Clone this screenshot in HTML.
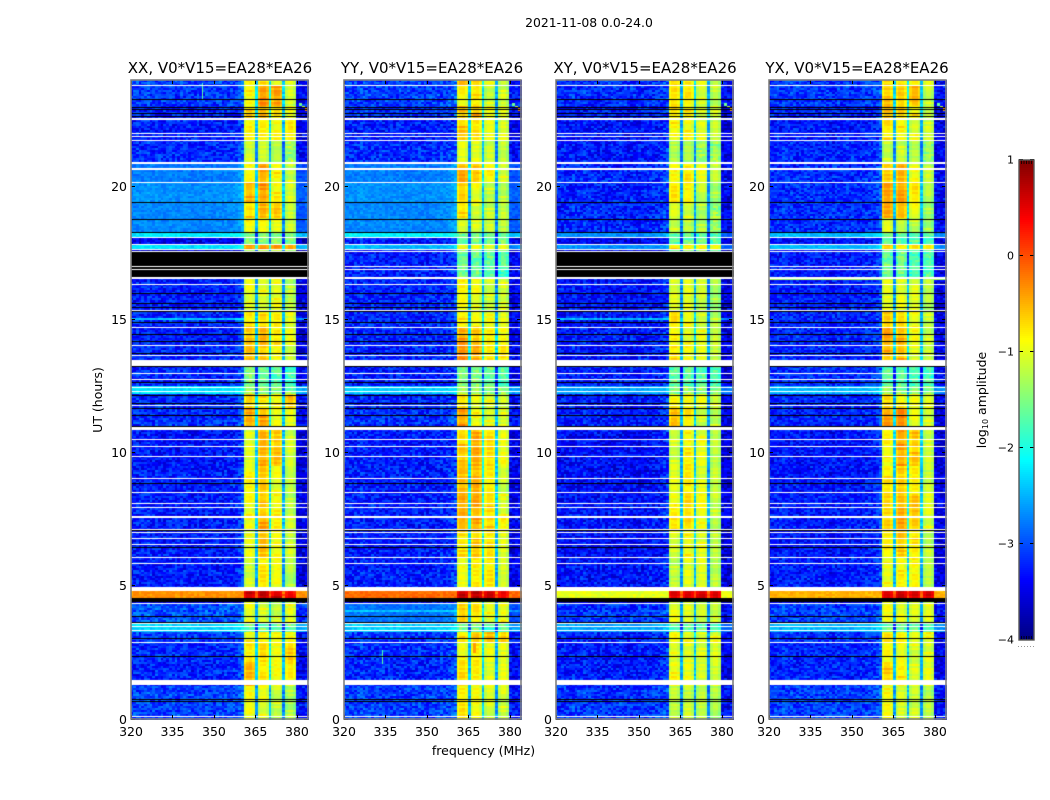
<!DOCTYPE html>
<html lang="en">
<head>
<meta charset="utf-8">
<title>2021-11-08 0.0-24.0 spectrogram</title>
<style>
html,body{margin:0;padding:0;background:#fff;}
#figure{position:relative;width:1050px;height:800px;overflow:hidden;background:#fff;font-family:"DejaVu Sans","Liberation Sans",sans-serif;color:#000;}
#figure canvas{position:absolute;display:block;}
#overlay{position:absolute;left:0;top:0;}
text{font-family:"DejaVu Sans","Liberation Sans",sans-serif;fill:#000;}
</style>
</head>
<body>
<div id="figure">
<svg id="overlay" width="1050" height="800" viewBox="0 0 1050 800" xmlns="http://www.w3.org/2000/svg">
  <text x="589" y="27" text-anchor="middle" font-size="12.4">2021-11-08 0.0-24.0</text>
  <text x="220" y="73" text-anchor="middle" font-size="15">XX, V0*V15=EA28*EA26</text>
  <text x="432" y="73" text-anchor="middle" font-size="15">YY, V0*V15=EA28*EA26</text>
  <text x="645" y="73" text-anchor="middle" font-size="15">XY, V0*V15=EA28*EA26</text>
  <text x="857" y="73" text-anchor="middle" font-size="15">YX, V0*V15=EA28*EA26</text>
  <text x="483.5" y="755" text-anchor="middle" font-size="12.5">frequency (MHz)</text>
  <text transform="translate(102 400) rotate(-90)" text-anchor="middle" font-size="12.5">UT (hours)</text>
  <text transform="translate(986 400) rotate(-90)" text-anchor="middle" font-size="12.5">log<tspan font-size="8" dy="2">10</tspan><tspan dy="-2"> amplitude</tspan></text>
  <g id="marks"></g>
</svg>
</div>
<script>
// Axis tick values
const freqTicks = [320, 335, 350, 365, 380];
const utTicks = [0, 5, 10, 15, 20];
const colorbarTicks = [1, 0, -1, -2, -3, -4];

// Start of each time block, UT hours
const segmentStart = [0,1.3,2.2,2.95,3.3,3.62,4.36,4.56,4.84,6.1,7.15,7.65,8.5,9.5,10.9,11.7,12.2,12.5,13.5,14,14.7,15.3,16.6,17.55,17.66,17.88,18.08,18.3,18.8,19.4,20.17,20.9,21.75,22.5,23,23.8];

// Estimated log10 amplitude per time block (-9 means below colour range)
const xxBackground = [-3.1,-3.25,-3.2,-3.15,-2.35,-3,-3.6,-0.35,-3.3,-3.3,-3.3,-3.3,-3.3,-3.35,-3.2,-3.2,-2.3,-3.25,-3.25,-3.3,-3.25,-3.3,-9,-3.6,-2.3,-3.5,-2.25,-2.75,-2.75,-2.7,-2.8,-3.2,-3.3,-3.25,-3.15,-3.1];
const xxSub1 = [-1,-0.55,-0.85,-0.9,-1.6,-1,-1.1,0.55,-1.15,-1,-0.9,-0.95,-0.95,-1.05,-0.45,-0.65,-1.4,-1.6,-0.6,-0.65,-0.75,-1,-9,-1.3,-0.4,-1.5,-1.5,-0.95,-0.7,-0.55,-0.95,-1.15,-0.9,-0.75,-0.85,-0.8];
const xxSub2 = [-1.05,-0.85,-0.75,-0.9,-1.6,-1.05,-1.1,0.6,-0.85,-0.6,-0.45,-0.6,-0.7,-0.55,-0.5,-0.8,-1.4,-1.65,-0.7,-0.55,-0.75,-1,-9,-1.3,-0.4,-1.5,-1.5,-0.95,-0.55,-0.4,-0.5,-1.2,-0.85,-0.6,-0.35,-0.7];
const xxSub3 = [-1.15,-1,-0.95,-0.95,-1.6,-1.1,-1.2,0.55,-1,-0.95,-0.85,-0.85,-1,-0.65,-1,-0.85,-1.45,-1.7,-1,-0.8,-0.85,-0.95,-9,-1.3,-0.45,-1.5,-1.55,-1,-0.65,-0.85,-0.85,-1.3,-0.95,-0.8,-0.45,-0.9];
const xxSub4 = [-1.25,-0.85,-0.7,-0.9,-1.65,-1,-1.15,0.5,-1.25,-1.15,-1.1,-1.2,-1.1,-1.15,-1,-0.6,-1.5,-1.75,-1.2,-1,-1,-1.2,-9,-1.35,-0.5,-1.6,-1.6,-1.15,-1.15,-1.1,-1.1,-1.35,-0.85,-0.95,-1.1,-1];

const yyBackground = [-3.1,-3.25,-3.2,-3.15,-2.4,-2.85,-3.5,-0.15,-3.3,-3.3,-3.3,-3.3,-3.3,-3.3,-3.2,-3.25,-2.4,-3.3,-3.25,-3.25,-3.25,-3.25,-3.3,-3.3,-2.5,-3.3,-2.2,-2.75,-2.75,-2.7,-2.8,-3.2,-3.3,-3.2,-3.1,-3.1];
const yySub1 = [-0.85,-0.75,-0.9,-0.8,-1.6,-0.75,-1,0.6,-1,-0.75,-0.5,-0.55,-0.6,-0.65,-0.45,-0.85,-1.35,-1.55,-0.35,-0.45,-0.8,-0.95,-1.6,-1.4,-0.95,-1.6,-1.55,-1,-0.75,-0.75,-0.55,-1.05,-0.65,-0.6,-0.9,-0.55];
const yySub2 = [-1,-0.85,-0.85,-0.55,-1.6,-0.8,-1,0.6,-0.85,-0.65,-0.45,-0.5,-0.6,-0.5,-0.9,-1,-1.4,-1.6,-0.5,-0.65,-0.85,-1,-1.65,-1.4,-1,-1.6,-1.6,-1.1,-1.05,-1,-0.7,-1.05,-0.8,-0.55,-0.75,-0.7];
const yySub3 = [-1.1,-1.05,-1,-0.6,-1.65,-0.95,-1.1,0.55,-0.85,-0.8,-0.65,-0.7,-0.9,-0.75,-1,-1,-1.45,-1.65,-0.85,-0.85,-0.95,-1.1,-1.75,-1.5,-1,-1.6,-1.6,-1.15,-1.15,-1.15,-0.9,-1.2,-1,-0.95,-1.1,-1];
const yySub4 = [-1.1,-1.05,-1,-0.7,-1.65,-0.9,-1.05,0.5,-1.15,-1.05,-0.85,-1,-1.15,-1,-1.05,-1,-1.5,-1.7,-0.85,-0.9,-1,-1.05,-1.75,-1.5,-1.05,-1.6,-1.6,-1.2,-1.2,-1.2,-1.05,-1.25,-1.05,-1.05,-1.1,-1.1];

const xyBackground = [-3.15,-3.3,-3.3,-3.25,-2.6,-3.15,-3.7,-1,-3.35,-3.4,-3.35,-3.35,-3.4,-3.4,-3.3,-3.3,-2.6,-3.3,-3.3,-3.3,-3.35,-3.35,-9,-3.5,-2.7,-3.5,-2.7,-3.25,-3.25,-3.25,-3.25,-3.3,-3.35,-3.3,-3.2,-3.2];
const xySub1 = [-1.2,-0.9,-1,-0.95,-1.7,-1.05,-1.2,0.5,-1.2,-1.05,-0.85,-0.95,-1.05,-1.1,-0.65,-0.95,-1.45,-1.65,-0.75,-0.85,-0.8,-1.1,-9,-1.4,-0.75,-1.6,-1.55,-1.15,-1.1,-0.85,-0.9,-1.3,-0.85,-0.8,-0.85,-0.85];
const xySub2 = [-1.2,-1,-1,-0.95,-1.7,-1.1,-1.25,0.55,-1.05,-0.9,-0.75,-0.8,-0.85,-0.85,-0.8,-1,-1.45,-1.7,-0.95,-0.95,-0.9,-1.1,-9,-1.4,-0.8,-1.6,-1.6,-1.15,-1.1,-0.95,-0.85,-1.3,-0.9,-0.85,-0.85,-0.9];
const xySub3 = [-1.25,-1.1,-1.05,-1,-1.7,-1.15,-1.3,0.5,-1.05,-1,-0.95,-0.95,-1.1,-1,-1.1,-1,-1.5,-1.75,-1.05,-1,-1.05,-1.15,-9,-1.5,-0.85,-1.6,-1.65,-1.25,-1.25,-1.2,-1.05,-1.35,-1.05,-1,-1.05,-1.05];
const xySub4 = [-1.3,-1.1,-1.05,-0.95,-1.7,-1.1,-1.25,0.5,-1.25,-1.2,-1.15,-1.15,-1.2,-1.2,-1.15,-1.05,-1.5,-1.8,-1.15,-1.15,-1.2,-1.3,-9,-1.5,-0.9,-1.7,-1.65,-1.35,-1.35,-1.3,-1.2,-1.4,-1.15,-1.1,-1.15,-1.1];

const yxBackground = [-3.1,-3.25,-3.25,-3.2,-2.5,-3.1,-3.6,-0.5,-3.3,-3.35,-3.3,-3.3,-3.35,-3.35,-3.25,-3.25,-2.5,-3.2,-3.25,-3.25,-3.25,-3.3,-3.3,-3.4,-2.5,-3.4,-2.5,-3.2,-3.2,-3.2,-3.2,-3.25,-3.3,-3.25,-3.15,-3.15];
const yxSub1 = [-0.95,-0.65,-0.95,-0.85,-1.65,-0.95,-1.1,0.55,-0.95,-0.9,-0.75,-0.75,-0.8,-0.9,-0.5,-0.75,-1.4,-1.65,-0.55,-0.5,-0.75,-1.05,-1.6,-1.4,-0.7,-1.6,-1.55,-1.1,-0.55,-0.45,-0.7,-1.15,-0.8,-0.65,-0.7,-0.75];
const yxSub2 = [-1.1,-0.8,-0.95,-0.9,-1.7,-1.05,-1.15,0.6,-0.85,-0.65,-0.5,-0.6,-0.7,-0.45,-0.4,-0.9,-1.45,-1.7,-0.55,-0.55,-0.8,-1.05,-1.65,-1.45,-0.75,-1.65,-1.6,-1.15,-0.65,-0.5,-0.55,-1.15,-0.85,-0.75,-0.75,-0.8];
const yxSub3 = [-1.15,-1.05,-1.05,-0.95,-1.7,-1.1,-1.2,0.55,-0.9,-0.75,-0.7,-0.65,-0.85,-0.6,-1,-1,-1.5,-1.75,-1.05,-0.85,-0.95,-1.1,-1.75,-1.5,-0.8,-1.7,-1.65,-1.2,-0.95,-0.85,-0.95,-1.25,-1,-0.85,-0.6,-0.95];
const yxSub4 = [-1.25,-1,-1,-0.9,-1.7,-1.05,-1.2,0.5,-1.2,-1.15,-1.05,-1.05,-1.15,-1.1,-1.05,-1.05,-1.55,-1.8,-1.15,-1.1,-1.1,-1.25,-1.75,-1.55,-0.85,-1.7,-1.65,-1.3,-1.3,-1.25,-1.2,-1.35,-1.1,-1.1,-1.15,-1];

// 64 frequency channels: 0 background, 1-4 sub-band, 5 band-edge notch
const channelBand = [0,0,0,0,0,0,0,0,0,0,0,0,0,0,0,0,0,0,0,0,0,0,0,0,0,0,0,0,0,0,0,0,0,0,0,0,0,0,0,0,0,1,1,1,1,5,2,2,2,2,5,3,3,3,3,5,4,4,4,4,0,0,0,0];
const channelOffset = [0,.02,.05,.05,.03,.05,.08,.05,.03,.05,.05,.03,.02,.03,.05,.02,.05,.03,.02,.03,.05,.03,0,.02,.03,.02,0,.03,.02,0,.03,.03,.03,.03,.05,.05,.05,.08,.1,.15,.25,-.15,.03,.05,-.08,-1.5,-.12,.04,.04,-.12,-1.35,-.12,.03,.03,-.12,-1.6,-.12,.03,.03,-.15,-.2,-.2,-.2,-.15];

// Fine grain residuals (hand-typed approximation of speckle too fine to read cell by cell)
const cellGrain = [.31,-.42,.12,-.08,.55,-.27,.04,-.61,.22,.38,-.15,-.33,.47,.09,-.52,.18,-.05,.29,-.44,.62,-.2,.06,-.36,.41,-.11,.25,-.58,.14,.34,-.24,-.02,.5,-.47,.2,-.12,.36,-.31,.08,.44,-.55,.16,-.07,.27,-.39,.57,-.18,.03,-.29,.39,-.48,.11,.24,-.64,.33,-.09,.17,-.26,.48,-.35,.01,.21,-.41,.07,.53,-.14,-.3,.28,-.5,.13,.42,-.22,-.04,.35,-.6,.19,.46,-.17,.1,-.37,.26,-.03,.52,-.45,.15,-.25,.32,-.54,.05,.4,-.13,-.34,.23,.6,-.43,.02,-.19,.3,-.49,.37,-.06,.16,-.28,.45,-.56,.12,.2,-.38,.58,-.1,-.23,.43,-.32,.06,.27,-.46,.15,.34,-.16,-.01,.49,-.4,.09,-.21,.36,-.53];
const rowGrain = [.1,-.12,.22,.04,-.2,.3,-.05,.15,-.28,.08,.34,-.1,-.18,.2,.02,-.3,.25,.12,-.08,.36,-.22,.05,.16,-.14,.28,-.02,-.25,.18,.32,-.16,.06,-.06,.24,-.32,.14,.03,.38,-.2,-.04,.2,-.26,.1,.3,-.12,.07,-.18,.26,.01,-.1,.33,-.24,.12,.18];

// Flagged (no data) times drawn white, single rows, UT hours
const whiteRows = [0.1,2.9,3.36,3.48,3.61,4.36,5.87,6.09,6.58,6.8,7.01,7.14,7.97,8.12,8.53,9.06,9.89,10.24,10.53,11.8,12.33,12.48,12.77,12.98,13.69,14.05,14.71,15.38,16.34,16.9,17.03,17.59,17.66,17.85,18.11,20.17,21.76,21.88,22.01,23.8];
// Flagged intervals drawn white: start and end hours
const whiteBlockStart = [1.3,4.84,7.56,10.87,13.27,16.54,20.64,20.86,22.52];
const whiteBlockEnd = [1.48,4.98,7.66,10.98,13.5,16.62,20.72,20.94,22.6];
// Zero-amplitude rows drawn black, UT hours
const blackRows = [0.67,0.76,2.37,3.05,3.66,3.86,6.47,7.09,8.87,11.02,11.43,11.67,11.88,12.16,12.65,13.25,13.75,14.19,14.45,14.93,15.31,15.48,15.63,16,18.3,18.78,19.41,22.64,22.77,22.92,22.99,23.27];
const blackBlockStart = [4.42,3.62];
const blackBlockEnd = [4.58,3.67];

// Narrow interference streaks across the background: panel, UT hour, level
const streakPanel = [0,2,3,1];
const streakHour = [15.05,15.05,16.55,4.1];
const streakLevel = [-2.45,-2.5,-1.3,-2.45];

// Individual bright cells: panel, channel, UT hour, level
const hotPanel = [0,0,0,0,0,0,0,0,0,1,1,1,1,1,1,1,2,2,2,3,3,3,1,1,1,1,1];
const hotChannel = [26,26,26,26,26,26,61,62,63,61,62,63,47,47,47,47,61,62,63,61,62,63,14,14,14,14,14];
const hotHour = [23.3,23.4,23.5,23.6,23.7,23.8,23.05,22.95,22.85,23.05,22.95,22.85,2.5,2.6,2.7,2.8,23.05,22.95,22.85,23.05,22.95,22.85,2.1,2.2,2.3,2.4,2.5];
const hotLevel = [-1.7,-1.6,-1.7,-1.6,-1.7,-1.8,-1.6,-1.2,-0.3,-1.6,-1.2,-0.3,-0.4,-0.4,-0.4,-0.4,-1.6,-1.2,-0.5,-1.6,-1.2,-0.4,-1.7,-1.6,-1.6,-1.7,-1.8];

const panelColumns = [
  [xxBackground,xxSub1,xxSub2,xxSub3,xxSub4],
  [yyBackground,yySub1,yySub2,yySub3,yySub4],
  [xyBackground,xySub1,xySub2,xySub3,xySub4],
  [yxBackground,yxSub1,yxSub2,yxSub3,yxSub4]
];
const panelKeys = ['xx','yy','xy','yx'];
const panelLeft = [131,344,556,769];

const plotTop = 80, plotBottom = 719, plotWidth = 177;
const pxPerMHz = plotWidth / 64;
const pxPerHour = 26.63;
const cellHours = 0.075, rowCount = 320, hotSpan = 0.1;
function xScale(mhz) { return (mhz - 320) * pxPerMHz; }
function yScale(ut) { return 719.5 - ut * pxPerHour; }
const cbarTop = 160, cbarBottom = 640, cbarLeft = 1019, cbarRight = 1034;
function cbarY(v) { return cbarBottom - (v + 4) / 5 * (cbarBottom - cbarTop); }

function clamp01(v) { return Math.max(0, Math.min(1, v)); }
function jet(value) {
  if (value < -4) return 'rgb(0,0,0)';
  const f = clamp01((value + 4) / 5);
  const r = clamp01(1.5 - Math.abs(4 * f - 3));
  const g = clamp01(1.5 - Math.abs(4 * f - 2));
  const b = clamp01(1.5 - Math.abs(4 * f - 1));
  return 'rgb(' + Math.round(r * 255) + ',' + Math.round(g * 255) + ',' + Math.round(b * 255) + ')';
}
function segmentIndex(ut) {
  let idx = 0;
  for (let i = 0; i < segmentStart.length; i++) { if (ut >= segmentStart[i]) idx = i; }
  return idx;
}
function mean(list) { return list.reduce(function (a, b) { return a + b; }, 0) / list.length; }

function cellValue(panel, row, channel) {
  const ut = (row + 0.5) * cellHours;
  const seg = segmentIndex(ut);
  const cols = panelColumns[panel];
  const kind = channelBand[channel];
  const gi = (row * row * 3 + channel * channel * 7 + row * channel * 5 + panel * 13 + row * 17 + channel * 29) % cellGrain.length;
  const g = cellGrain[gi];
  const rg = rowGrain[(row * 7 + panel * 3 + kind * 11) % rowGrain.length];
  if (kind === 0) {
    let base = cols[0][seg];
    for (let s = 0; s < streakHour.length; s++) {
      if (streakPanel[s] === panel && Math.abs(streakHour[s] - ut) <= cellHours / 2) base = streakLevel[s];
    }
    const factor = base < -2.9 ? 0.6 : (base < -1.5 ? 0.25 : 0.2);
    return base + channelOffset[channel] * (base < -1.5 ? 1 : 0) + g * factor;
  }
  if (kind === 5) {
    const m = mean([cols[1][seg], cols[2][seg], cols[3][seg], cols[4][seg]]);
    return m + channelOffset[channel] * (m > 0 ? 0.4 : 1) + g * 0.35;
  }
  const lvl = cols[kind][seg];
  return lvl + channelOffset[channel] + g * (lvl < -1.3 ? 0.35 : 0.08) + rg * 0.45;
}

function drawRow(ctx, ut, spanHours, color) {
  const y0 = Math.round(yScale(ut + spanHours / 2) - plotTop);
  const y1 = Math.round(yScale(ut - spanHours / 2) - plotTop);
  ctx.fillStyle = color;
  ctx.fillRect(0, y0, plotWidth + 1, Math.max(1, y1 - y0));
}

panelKeys.forEach(function (key, p) {
  const canvas = document.createElement('canvas');
  
  
  canvas.width = plotWidth + 1;
  canvas.height = plotBottom - plotTop + 1;
  canvas.style.left = panelLeft[p] + 'px';
  canvas.style.top = plotTop + 'px';
  document.getElementById('figure').insertBefore(canvas, document.getElementById('overlay'));
  const ctx = canvas.getContext('2d');
  ctx.fillStyle = '#fff';
  ctx.fillRect(0, 0, canvas.width, canvas.height);
  for (let r = 0; r < rowCount; r++) {
    const y0 = Math.round(yScale((r + 1) * cellHours) - plotTop);
    const y1 = Math.round(yScale(r * cellHours) - plotTop);
    for (let c = 0; c < channelBand.length; c++) {
      const x0 = Math.max(0, Math.round(xScale(320 + c - 0.25)));
      const x1 = c === channelBand.length - 1 ? plotWidth + 1 : Math.round(xScale(320 + c + 0.75));
      ctx.fillStyle = jet(cellValue(p, r, c));
      ctx.fillRect(x0, y0, x1 - x0, y1 - y0);
    }
  }
  hotHour.forEach(function (ut, i) {
    if (hotPanel[i] !== p) return;
    const c = hotChannel[i];
    const x0 = Math.round(xScale(320 + c - 0.25));
    const x1 = Math.round(xScale(320 + c + 0.75));
    const y0 = Math.round(yScale(ut + hotSpan) - plotTop);
    const y1 = Math.round(yScale(ut) - plotTop);
    ctx.fillStyle = jet(hotLevel[i]);
    ctx.fillRect(x0, y0, c < 40 ? 1 : x1 - x0, y1 - y0);
  });
  blackBlockStart.forEach(function (s, i) { drawRow(ctx, (s + blackBlockEnd[i]) / 2, blackBlockEnd[i] - s, '#000'); });
  blackRows.forEach(function (ut) { drawRow(ctx, ut, 0.03, '#000'); });
  whiteBlockStart.forEach(function (s, i) { drawRow(ctx, (s + whiteBlockEnd[i]) / 2, whiteBlockEnd[i] - s, '#fff'); });
  whiteRows.forEach(function (ut) { drawRow(ctx, ut, 0.03, '#fff'); });
});

const marks = document.getElementById('marks');
const SVGNS = 'http://www.w3.org/2000/svg';
function addLine(parent, x1, y1, x2, y2, color, width) {
  const el = document.createElementNS(SVGNS, 'line');
  el.setAttribute('x1', x1);
  el.setAttribute('y1', y1);
  el.setAttribute('x2', x2);
  el.setAttribute('y2', y2);
  el.setAttribute('stroke', color);
  el.setAttribute('stroke-width', width);
  parent.appendChild(el);
  return el;
}
function addLabel(parent, x, y, anchor, size, content) {
  const el = document.createElementNS(SVGNS, 'text');
  el.setAttribute('x', x);
  el.setAttribute('y', y);
  el.setAttribute('text-anchor', anchor);
  el.setAttribute('font-size', size);
  el.textContent = content;
  parent.appendChild(el);
  return el;
}

panelKeys.forEach(function (key, p) {
  const left = panelLeft[p];
  const right = left + plotWidth;
  const group = document.createElementNS(SVGNS, 'g');
  
  
  marks.appendChild(group);
  freqTicks.forEach(function (f) {
    const x = Math.round(left + xScale(f)) + 0.5;
    const bottomTick = addLine(group, x, plotBottom, x, plotBottom - 4, '#000', 1);
    
    
    const topTick = addLine(group, x, plotTop, x, plotTop + 4, '#000', 1);
    
    
    const label = addLabel(group, left + xScale(f), plotBottom + 17, 'middle', 12.5, String(f));
    
    
  });
  utTicks.forEach(function (t) {
    const y = Math.round(yScale(t)) - 0.5;
    const leftTick = addLine(group, left, y, left + 4, y, '#000', 1);
    
    
    const rightTick = addLine(group, right, y, right - 4, y, '#000', 1);
    
    
    const label = addLabel(group, left - 4, y + 4.5, 'end', 12.5, String(t));
    
    
  });
  const frame = document.createElementNS(SVGNS, 'rect');
  
  
  frame.setAttribute('x', left);
  frame.setAttribute('y', plotTop);
  frame.setAttribute('width', plotWidth);
  frame.setAttribute('height', plotBottom - plotTop);
  frame.setAttribute('fill', 'none');
  frame.setAttribute('stroke', '#808080');
  frame.setAttribute('stroke-width', '1.6');
  group.appendChild(frame);
});

const cbar = document.createElementNS(SVGNS, 'g');


cbar.setAttribute('shape-rendering', 'auto');
marks.appendChild(cbar);
for (let y = cbarTop; y < cbarBottom; y += 2) {
  const swatch = document.createElementNS(SVGNS, 'rect');
  
  
  swatch.setAttribute('x', cbarLeft);
  swatch.setAttribute('y', y);
  swatch.setAttribute('width', cbarRight - cbarLeft);
  swatch.setAttribute('height', 2);
  swatch.setAttribute('fill', jet(1 - (y + 1 - cbarTop) / (cbarBottom - cbarTop) * 5));
  swatch.setAttribute('shape-rendering', 'crispEdges');
  cbar.appendChild(swatch);
}
colorbarTicks.forEach(function (v) {
  const y = Math.round(cbarY(v)) - 0.5;
  const tl = addLine(cbar, cbarLeft, y, cbarLeft + 4, y, '#000', 1);
  
  
  const tr = addLine(cbar, cbarRight, y, cbarRight - 4, y, '#000', 1);
  
  
  const label = addLabel(cbar, cbarLeft - 5, y + 4, 'end', 11, v < 0 ? '\u2212' + Math.abs(v) : String(v));
  
  
});
for (let i = 0; i < 6; i++) {
  const x = cbarLeft + 2.5 + i * 2.5;
  const hatchTop = addLine(cbar, x, cbarTop, x, cbarTop + 4, '#000', 0.8);
  
  
  const hatchBottom = addLine(cbar, x, cbarBottom, x, cbarBottom - 4, '#000', 0.8);
  
  
  const dot = document.createElementNS(SVGNS, 'rect');
  
  
  dot.setAttribute('x', cbarLeft - 1 + i * 3);
  dot.setAttribute('y', cbarBottom + 6);
  dot.setAttribute('width', 1);
  dot.setAttribute('height', 1);
  dot.setAttribute('fill', '#999');
  cbar.appendChild(dot);
}
const cbarOutline = document.createElementNS(SVGNS, 'rect');


cbarOutline.setAttribute('x', cbarLeft);
cbarOutline.setAttribute('y', cbarTop);
cbarOutline.setAttribute('width', cbarRight - cbarLeft);
cbarOutline.setAttribute('height', cbarBottom - cbarTop);
cbarOutline.setAttribute('fill', 'none');
cbarOutline.setAttribute('stroke', '#555');
cbarOutline.setAttribute('stroke-width', '1.4');
cbar.appendChild(cbarOutline);
</script>
</body>
</html>
